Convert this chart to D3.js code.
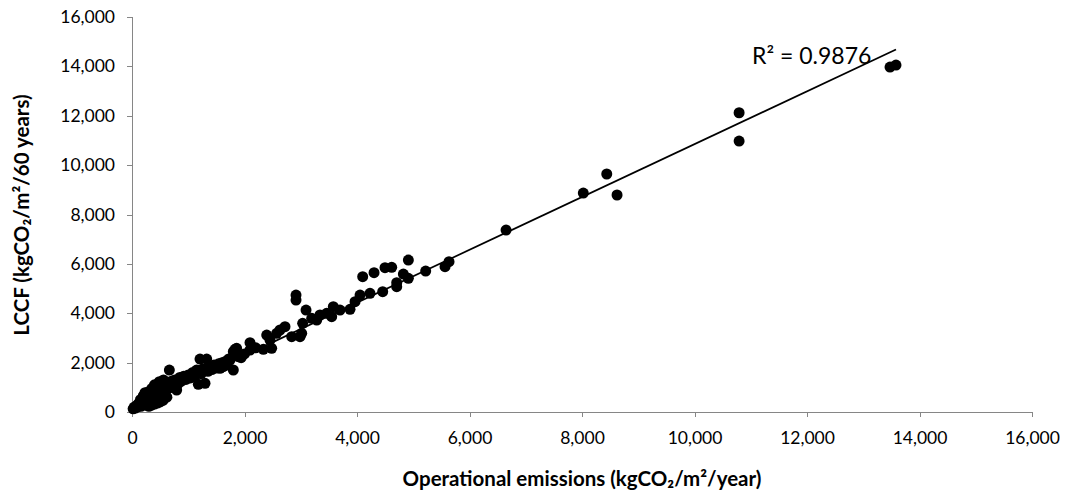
<!DOCTYPE html>
<html>
<meta charset="utf-8">
<style>
body { margin: 0; background: #fff; }
.axis text { font-family: Lato, "Open Sans", sans-serif; font-size: 17.5px; fill: #000; }
.axis path, .axis line { stroke: #868686; shape-rendering: crispEdges; }
.title { font-family: Lato, "Open Sans", sans-serif; font-weight: bold; font-size: 20.5px; fill: #000; }
</style>
<body>
<svg width="1067" height="493"></svg>
<script src="https://cdn.jsdelivr.net/npm/d3@7"></script>
<script>

// operational emissions (kgCO2/m2/year)
var opEmissions = [20, 40, 60, 80, 100, 110, 130, 150, 160, 180, 200, 210, 230, 240, 260, 270, 290, 300, 320, 330,
  350, 360, 380, 400, 410, 430, 450, 460, 480, 486, 500, 520, 540, 560, 580, 600, 620, 640, 664, 680,
  700, 720, 240, 280, 200, 231, 350, 150, 400, 560,
  300, 350, 400, 450, 500, 550, 620,
  760, 794, 820, 850, 880, 920, 960, 1000, 1040, 1080, 1120, 1150, 1179, 1209, 1230, 1260, 1298, 1328, 1350, 1380,
  1420, 1460, 1500, 1540, 1565, 1600, 1623, 1660, 1683, 1720, 1742, 1801, 1801, 1831, 1860, 1890, 1940, 2000, 2098, 2098,
  2200, 2335, 2395, 2453, 2483, 2572, 2631, 2720, 2839, 2916, 2916, 2987, 3017, 3034, 3094, 3195, 3284, 3342, 3461, 3550,
  3579, 3698, 3876, 3965, 4054, 4101, 4231, 4303, 4457, 4498, 4617, 4706, 4706, 4824, 4913, 4913, 5221, 5565, 5636, 6650,
  8023, 8440, 8623, 10793, 10793, 13476, 13582];

// life cycle carbon footprint (kgCO2/m2/60 years)
var lccf = [130, 200, 160, 250, 210, 330, 280, 390, 230, 330, 450, 300, 520, 380, 610, 340, 470, 700, 420, 560,
  780, 500, 640, 850, 540, 720, 900, 620, 1000, 1228, 760, 880, 980, 700, 1050, 880, 1120, 950, 1700, 1100,
  1250, 1000, 760, 800, 650, 783, 950, 500, 1100, 1300,
  230, 280, 320, 360, 410, 470, 600,
  1300, 891, 1150, 1400, 1250, 1450, 1320, 1500, 1380, 1600, 1450, 1700, 1121, 2146, 1550, 1750, 1161, 2146, 1650, 1850,
  1720, 1900, 1780, 1950, 1770, 2000, 1835, 2050, 1903, 2150, 2106, 1701, 2442, 2539, 2580, 2240, 2200, 2350, 2807, 2511,
  2600, 2539, 3118, 2916, 2580, 3187, 3321, 3455, 3050, 4738, 4536, 3050, 3187, 3592, 4131, 3795, 3726, 3929, 3997, 3860,
  4265, 4131, 4158, 4467, 4738, 5480, 4806, 5642, 4873, 5844, 5860, 5237, 5075, 5589, 6156, 5414, 5710, 5885, 6087, 7371,
  8870, 9640, 8790, 12122, 10975, 13972, 14053];

var xTicks = [0, 2000, 4000, 6000, 8000, 10000, 12000, 14000, 16000];
var yTicks = [0, 2000, 4000, 6000, 8000, 10000, 12000, 14000, 16000];

// linear trendline
var trendSlope = 1.07, trendIntercept = 150;
var rSquared = "0.9876";

var svg = d3.select("svg");

var x = d3.scaleLinear().domain([0, 16000]).range([132, 1032]);
var y = d3.scaleLinear().domain([0, 16000]).range([412, 17]);

var fmt = d3.format(",");

svg.append("g")
    .attr("class", "axis")
    .attr("transform", "translate(0,412)")
    .call(d3.axisBottom(x).tickValues(xTicks).tickFormat(fmt).tickSizeOuter(0).tickSize(5).tickPadding(15));

svg.append("g")
    .attr("class", "axis")
    .attr("transform", "translate(132,0)")
    .call(d3.axisLeft(y).tickValues(yTicks).tickFormat(fmt).tickSizeOuter(0).tickSize(5).tickPadding(12));

var pts = opEmissions.map(function(d, i) { return [d, lccf[i]]; });

svg.append("g")
  .selectAll("circle")
    .data(pts)
  .enter().append("circle")
    .attr("cx", function(d) { return x(d[0]); })
    .attr("cy", function(d) { return y(d[1]); })
    .attr("r", 5.5)
    .attr("fill", "#000");

var x0 = d3.min(opEmissions), x1 = d3.max(opEmissions);
svg.append("line")
    .attr("x1", x(x0)).attr("y1", y(trendSlope * x0 + trendIntercept))
    .attr("x2", x(x1)).attr("y2", y(trendSlope * x1 + trendIntercept))
    .attr("stroke", "#000")
    .attr("stroke-width", 1.7);

svg.append("text")
    .attr("x", 752)
    .attr("y", 64)
    .attr("font-family", "Lato, 'Open Sans', sans-serif")
    .attr("font-size", 23)
    .text("R² = " + rSquared);

svg.append("text")
    .attr("class", "title")
    .attr("x", 582)
    .attr("y", 486)
    .attr("text-anchor", "middle")
    .text("Operational emissions (kgCO₂/m²/year)");

svg.append("text")
    .attr("class", "title")
    .attr("transform", "translate(29,215) rotate(-90)")
    .attr("text-anchor", "middle")
    .text("LCCF (kgCO₂/m²/60 years)");

</script>
</body>
</html>
